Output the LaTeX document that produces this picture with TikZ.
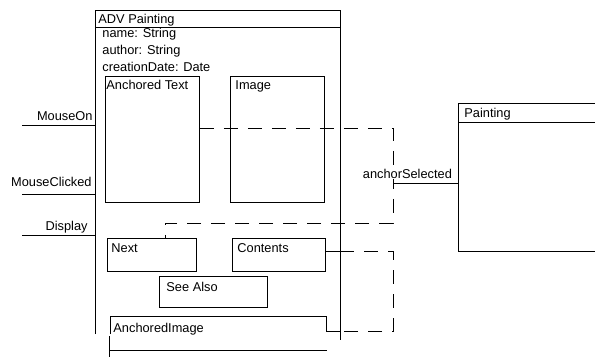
\documentclass[tikz,border=0pt]{standalone}
\usepackage{fontspec}
\setmainfont{Liberation Sans}
\begin{document}
\begin{tikzpicture}[x=1pt,y=-1pt,
  line width=0.9pt,
  box/.style={draw, rectangle, inner sep=0pt, anchor=north west},
  txt/.style={inner sep=0pt, anchor=base west, font=\fontsize{12.8}{14}\selectfont},
  rtxt/.style={inner sep=0pt, anchor=base east, font=\fontsize{12.8}{14}\selectfont},
  dsh/.style={dash pattern=on 14pt off 10pt}]
\path[use as bounding box] (0,0) rectangle (595,357);
% ADV Painting frame
\coordinate (advtl) at (95,10);
\coordinate (advtr) at (340,10);
\coordinate (advbl) at (95,334);
\coordinate (advbr) at (340,340);
\draw (advbl) -- (advtl) -- (advtr) -- (advbr);
\draw (95,27) coordinate (advbarl) -- (340,27) coordinate (advbarr);
\node[txt] (advt) at (98,23.5) {ADV Painting};
\node[txt] (a1) at (102,37.5) {name: String};
\node[txt] (a2) at (102,54) {author: String};
\node[txt] (a3) at (102,71) {creationDate: Date};
% inner boxes
\node[box, minimum width=94pt, minimum height=126pt] (at) at (105,76) {};
\node[txt] at (106,89) {Anchored Text};
\node[box, minimum width=94pt, minimum height=126pt] (im) at (230,76) {};
\node[txt] at (235,89) {Image};
\node[box, minimum width=89pt, minimum height=33pt] (nx) at (107,238) {};
\node[txt] at (111,252) {Next};
\node[box, minimum width=93pt, minimum height=33pt] (ct) at (232,238) {};
\node[txt] at (237,252) {Contents};
\node[box, minimum width=108pt, minimum height=31pt] (sa) at (159,276) {};
\node[txt] at (166,291) {See Also};
% AnchoredImage (cut)
\coordinate (aibl) at (110,334);
\coordinate (aitl) at (110,316);
\coordinate (aitr) at (326,316);
\coordinate (aibr) at (326,331);
\draw (aibl) -- (aitl) -- (aitr) -- (aibr);
\node[txt] at (113,332) {AnchoredImage};
\coordinate (fa) at (109,336);
\coordinate (fb) at (109,357);
\coordinate (fc) at (109,350);
\coordinate (fd) at (327,350);
\draw (fa) -- (fb);
\draw (fc) -- (fd);
% Painting
\coordinate (ptl) at (458,103);
\coordinate (pbl) at (458,251);
\draw (600,103) -- (ptl) -- (pbl) -- (600,251);
\draw (458,122) -- (600,122);
\node[txt] (pt) at (464,117) {Painting};
\coordinate (pw) at (458,183);
% input lines
\coordinate (mo) at (22,125);
\coordinate (mc) at (22,194);
\coordinate (ds) at (22,235);
\draw (mo) -- (advtl |- mo);
\draw (mc) -- (advtl |- mc);
\draw (ds) -- (advtl |- ds);
\node[rtxt] at (93,120) {MouseOn};
\node[rtxt] at (92,186) {MouseClicked};
\node[rtxt] at (88,230) {Display};
% dashed connectors
\coordinate (r1) at (393,128);
\coordinate (r2) at (393,223);
\coordinate (r3) at (165,223);
\draw[dsh] (at.east |- r1) -- (r1) -- (r2) -- (r3) -- (nx.north -| r3);
\coordinate (c1) at (340,251);
\coordinate (c2) at (393,251);
\coordinate (c3) at (393,331);
\coordinate (c4) at (340,331);
\draw (ct.east |- c1) -- (c1);
\draw[dsh] (c1) -- (c2) -- (c3) -- (c4);
\draw (c4) -- (aibr);
% anchorSelected
\coordinate (as) at (393,183);
\draw (as) -- (pw);
\node[txt, fill=white, inner sep=0.5pt] (ast) at (362,178) {anchorSelected};
\end{tikzpicture}
\end{document}
